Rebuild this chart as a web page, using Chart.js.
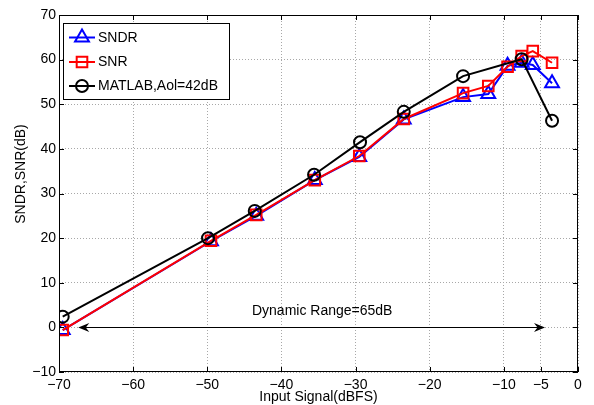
<!DOCTYPE html>
<html>
<head>
<meta charset="utf-8">
<script src="https://cdn.jsdelivr.net/npm/chart.js@4"></script>
<style>
  html, body { margin: 0; padding: 0; background: #fff; }
</style>
</head>
<body>
<canvas id="snrChart" width="594" height="405"></canvas>
<script>
// input levels (dBFS) for the measured curves
const inputLevels = [-69.5, -49.5, -43.4, -35.5, -29.5, -23.5, -15.5, -12.1, -9.5, -7.6, -6.1, -3.5];
const sndrValues = [-0.6, 19.3, 25.0, 33.0, 38.2, 46.6, 51.6, 52.3, 58.6, 59.3, 58.8, 54.7];
const snrValues = [-0.6, 19.4, 25.2, 33.0, 38.4, 46.7, 52.5, 54.1, 58.4, 60.8, 61.9, 59.3];

// simulated curve
const matlabLevels = [-69.5, -49.9, -43.6, -35.6, -29.4, -23.5, -15.5, -7.6, -3.5];
const matlabValues = [2.4, 20.0, 26.1, 34.2, 41.5, 48.3, 56.3, 60.1, 46.3];

const xTickValues = [-70, -60, -50, -40, -30, -20, -10, -5, 0];
const yTickValues = [-10, 0, 10, 20, 30, 40, 50, 60, 70];

const seriesLabels = ['SNDR', 'SNR', 'MATLAB,Aol=42dB'];

const rangeStart = -67.4;
const rangeEnd = -4.45;
const rangeText = 'Dynamic Range=65dB';
const rangeTextPos = { x: -34.5, y: 3.7 };

const FAMILY = '"Liberation Sans", Arial, Helvetica, sans-serif';
const FONT = '14px ' + FAMILY;
const minus = v => String(v).replace('-', '\u2212');

const toPoints = (xs, ys) => xs.map((x, i) => ({ x: x, y: ys[i] }));

const styles = [
    { color: '#0000ff', pointStyle: 'triangle', radius: 8 },
    { color: '#ff0000', pointStyle: 'rect', radius: 7.5 },
    { color: '#000000', pointStyle: 'circle', radius: 6 }
];

function drawArrowHead(ctx, x, y, dir) {
    // MATLAB style notched head
    ctx.beginPath();
    ctx.moveTo(x, y);
    ctx.lineTo(x - dir * 11, y - 4.5);
    ctx.lineTo(x - dir * 7.5, y);
    ctx.lineTo(x - dir * 11, y + 4.5);
    ctx.closePath();
    ctx.fill();
}

const decorations = {
    id: 'decorations',
    afterDraw(chart) {
        const { ctx, chartArea: a, scales: { x, y } } = chart;
        ctx.save();

        // frame + inward tick marks on all four sides
        ctx.strokeStyle = '#000';
        ctx.lineWidth = 1;
        ctx.strokeRect(a.left + 0.5, a.top + 0.5, a.right - a.left - 1, a.bottom - a.top - 1);
        ctx.beginPath();
        xTickValues.forEach(v => {
            const px = Math.round(x.getPixelForValue(v)) + 0.5;
            ctx.moveTo(px, a.bottom); ctx.lineTo(px, a.bottom - 5);
            ctx.moveTo(px, a.top); ctx.lineTo(px, a.top + 5);
        });
        yTickValues.forEach(v => {
            const py = Math.round(y.getPixelForValue(v)) + 0.5;
            ctx.moveTo(a.left, py); ctx.lineTo(a.left + 5, py);
            ctx.moveTo(a.right, py); ctx.lineTo(a.right - 5, py);
        });
        ctx.stroke();

        // dynamic range arrow
        const ay = Math.round(y.getPixelForValue(0)) + 0.5;
        const x1 = x.getPixelForValue(rangeStart);
        const x2 = x.getPixelForValue(rangeEnd);
        ctx.beginPath();
        ctx.moveTo(x1 + 6, ay);
        ctx.lineTo(x2 - 6, ay);
        ctx.stroke();
        ctx.fillStyle = '#000';
        drawArrowHead(ctx, x1, ay, -1);
        drawArrowHead(ctx, x2, ay, 1);

        ctx.font = FONT;
        ctx.textAlign = 'center';
        ctx.textBaseline = 'middle';
        ctx.fillText(rangeText, x.getPixelForValue(rangeTextPos.x), y.getPixelForValue(rangeTextPos.y));

        // y axis title
        ctx.save();
        ctx.translate(21.5, 174);
        ctx.rotate(-Math.PI / 2);
        ctx.fillText('SNDR,SNR(dB)', 0, 0);
        ctx.restore();

        // legend
        const box = { left: 63.5, top: 23.5, right: 229.5, bottom: 99.5 };
        ctx.fillStyle = '#fff';
        ctx.fillRect(box.left, box.top, box.right - box.left, box.bottom - box.top);
        ctx.strokeStyle = '#000';
        ctx.strokeRect(box.left, box.top, box.right - box.left, box.bottom - box.top);
        const rowY = [37.5, 62, 86];
        seriesLabels.forEach((label, i) => {
            const s = styles[i];
            ctx.strokeStyle = s.color;
            ctx.lineWidth = 2;
            ctx.beginPath();
            ctx.moveTo(69, rowY[i]);
            ctx.lineTo(95, rowY[i]);
            ctx.stroke();
            ctx.fillStyle = 'rgba(0,0,0,0)';
            Chart.helpers.drawPoint(ctx, {
                pointStyle: s.pointStyle, radius: s.radius, rotation: 0, borderWidth: 2
            }, 82, rowY[i]);
            ctx.fillStyle = '#000';
            ctx.textAlign = 'left';
            ctx.fillText(label, 98, rowY[i] + 0.5);
        });

        ctx.restore();
    }
};

const datasets = [
    { data: toPoints(inputLevels, sndrValues), order: 3 },
    { data: toPoints(inputLevels, snrValues), order: 2 },
    { data: toPoints(matlabLevels, matlabValues), order: 1 }
].map((d, i) => Object.assign(d, {
    label: seriesLabels[i],
    showLine: true,
    borderColor: styles[i].color,
    backgroundColor: 'transparent',
    borderWidth: 2,
    pointStyle: styles[i].pointStyle,
    pointRadius: styles[i].radius,
    pointBorderWidth: 2,
    pointBorderColor: styles[i].color,
    pointBackgroundColor: 'transparent',
    tension: 0
}));

const ctx = document.getElementById('snrChart').getContext('2d');
new Chart(ctx, {
    type: 'scatter',
    data: { datasets: datasets },
    options: {
        responsive: false,
        animation: false,
        devicePixelRatio: 1,
        layout: { padding: { top: 15, right: 16, left: 0, bottom: 0 } },
        plugins: { legend: { display: false }, tooltip: { enabled: false } },
        scales: {
            x: {
                type: 'linear',
                min: -70,
                max: 0,
                afterBuildTicks: s => { s.ticks = xTickValues.map(v => ({ value: v })); },
                afterFit: s => { s.height = 33; },
                ticks: {
                    color: '#000',
                    font: { family: FAMILY, size: 14 },
                    padding: 5,
                    maxRotation: 0,
                    autoSkip: false,
                    callback: v => minus(v)
                },
                grid: { color: '#a8a8a8', lineWidth: 1, drawTicks: false },
                border: { display: false, dash: [1, 2] },
                title: {
                    display: true,
                    text: 'Input Signal(dBFS)',
                    color: '#000',
                    font: { family: FAMILY, size: 14 },
                    padding: { top: 0, bottom: -1 }
                }
            },
            y: {
                type: 'linear',
                min: -10,
                max: 70,
                afterBuildTicks: s => { s.ticks = yTickValues.map(v => ({ value: v })); },
                afterFit: s => { s.width = 59; },
                ticks: {
                    color: '#000',
                    font: { family: FAMILY, size: 14 },
                    padding: 3,
                    autoSkip: false,
                    callback: v => minus(v)
                },
                grid: { color: '#a8a8a8', lineWidth: 1, drawTicks: false },
                border: { display: false, dash: [1, 2] }
            }
        }
    },
    plugins: [decorations]
});
</script>
</body>
</html>
